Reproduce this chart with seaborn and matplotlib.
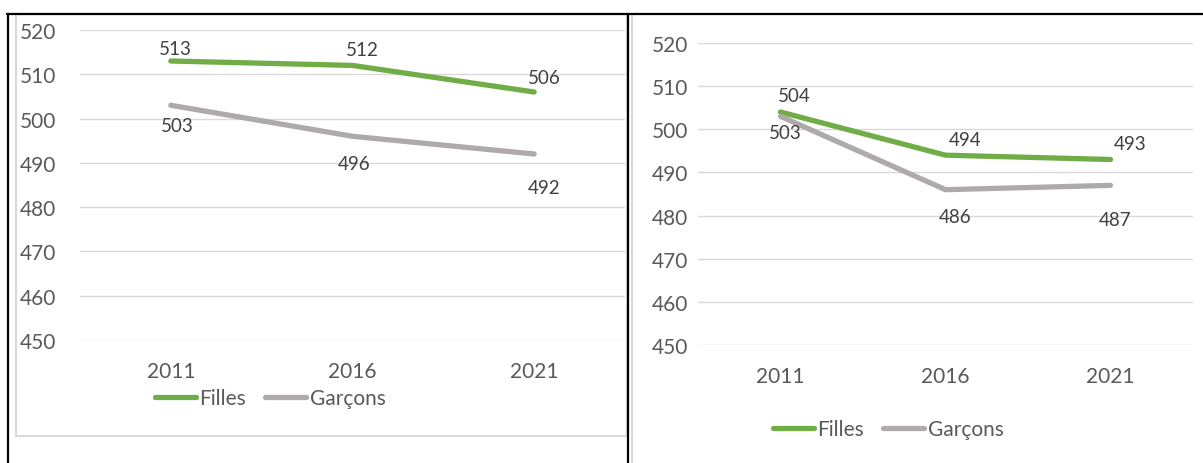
import pandas as pd
import seaborn as sns
import matplotlib.pyplot as plt
from matplotlib.lines import Line2D
from matplotlib.patches import Rectangle

# Data
years = ["2011", "2016", "2021"]
left_filles = [513, 512, 506]
left_garcons = [503, 496, 492]
right_filles = [504, 494, 493]
right_garcons = [503, 486, 487]
series = ["Filles", "Garçons"]
yticks = [450, 460, 470, 480, 490, 500, 510, 520]

GREEN = "#70AD47"
GREY = "#AEAAAA"
W, H = 1203, 464

sns.set_theme(style="white")
plt.rcParams["font.family"] = ["Lato", "DejaVu Sans"]

fig = plt.figure(figsize=(W / 100, H / 100), dpi=100)


def px_axes(x0, x1, ytop, ybot):
    return fig.add_axes([x0 / W, 1 - ybot / H, (x1 - x0) / W, (ybot - ytop) / H])


def make_df(filles, garcons):
    return pd.DataFrame({
        "year": years * 2,
        "score": filles + garcons,
        "sexe": [series[0]] * 3 + [series[1]] * 3,
    })


def draw(ax, filles, garcons, label_off, ypad):
    df = make_df(filles, garcons)
    sns.lineplot(data=df, x="year", y="score", hue="sexe",
                 palette={series[0]: GREEN, series[1]: GREY},
                 linewidth=3.8, solid_capstyle="round", ax=ax, legend=False)
    ax.set_ylim(450, 520)
    ax.set_xlim(-0.5, 2.5)
    ax.set_yticks(yticks)
    ax.set_xlabel("")
    ax.set_ylabel("")
    ax.grid(axis="y", color="#D9D9D9", linewidth=1.0)
    ax.set_axisbelow(True)
    for s in ax.spines.values():
        s.set_visible(False)
    ax.tick_params(axis="y", length=0, pad=ypad, labelsize=15, labelcolor="#595959")
    ax.tick_params(axis="x", length=0, pad=15, labelsize=15, labelcolor="#595959")
    for vals, offs in zip([filles, garcons], label_off):
        for i, v in enumerate(vals):
            dx, dy = offs[i]
            ax.annotate(str(v), (i, v), xytext=(dx * 0.72, -dy * 0.72),
                        textcoords="offset points", ha="center", va="center",
                        fontsize=13.5, color="#404040")


# label offsets in pixels (dx, dy downward)
left_off = [[(4, -12), (10, -16), (10, -14)], [(6, 20), (2, 27), (10, 34)]]
right_off = [[(14, -17), (20, -16), (20, -16)], [(5, 16), (10, 27), (5, 34)]]

axl = px_axes(80, 625, 31, 341)
draw(axl, left_filles, left_garcons, left_off, 17)
axr = px_axes(698, 1193, 44, 346)
draw(axr, right_filles, right_garcons, right_off, 7)

handles = [Line2D([], [], color=GREEN, linewidth=3.8, solid_capstyle="round"),
           Line2D([], [], color=GREY, linewidth=3.8, solid_capstyle="round")]
for cx, cy in [(270, 399), (888, 430)]:
    fig.legend(handles, series, loc="center", bbox_to_anchor=(cx / W, 1 - cy / H),
               ncol=2, frameon=False, fontsize=15, handlelength=2.0,
               handletextpad=0.15, columnspacing=0.9, labelcolor="#595959")

# chart-area frame and table borders
fig.add_artist(Rectangle((16 / W, 1 - 437 / H), (627 - 16) / W, (437 - 15) / H,
                         transform=fig.transFigure, fill=False,
                         edgecolor="#D9D9D9", linewidth=1.5))
fig.add_artist(Line2D([632 / W, 632 / W], [0, 1 - 15 / H], transform=fig.transFigure,
                      color="#D9D9D9", linewidth=1.5))
for xs, ys in [([7 / W, 1], [1 - 15 / H, 1 - 15 / H]),
               ([8 / W, 8 / W], [0, 1 - 15 / H]),
               ([628 / W, 628 / W], [0, 1 - 15 / H])]:
    fig.add_artist(Line2D(xs, ys, transform=fig.transFigure, color="black", linewidth=1.6))

fig.savefig("out.png", dpi=100, facecolor="white")
